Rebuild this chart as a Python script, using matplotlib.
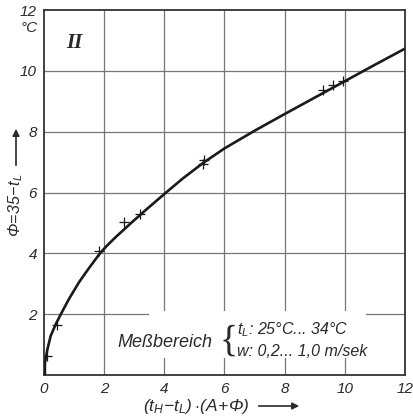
import matplotlib
matplotlib.use("Agg")
import matplotlib.pyplot as plt
from matplotlib.patches import Rectangle, FancyArrowPatch

plt.rcParams["mathtext.fontset"] = "custom"
plt.rcParams["mathtext.rm"] = "Liberation Sans:italic"
plt.rcParams["mathtext.it"] = "Liberation Sans:italic"
plt.rcParams["mathtext.sf"] = "Liberation Sans:italic"

# curve
curve_x = [0.03, 0.03, 0.11, 0.22, 0.39, 0.56, 0.83, 1.17, 1.5, 1.83, 2.06, 2.38, 2.92, 3.4,
           4.0, 4.6, 5.3, 6.0, 7.0, 8.0, 9.0, 10.0, 11.0, 12.0]
curve_y = [0.0, 0.39, 0.83, 1.28, 1.67, 2.0, 2.5, 3.06, 3.52, 3.96, 4.22, 4.53, 5.02, 5.44,
           5.95, 6.45, 6.98, 7.45, 8.03, 8.58, 9.12, 9.66, 10.2, 10.73]

# measured points (+)
meas_x = [0.11, 0.44, 1.84, 2.65, 3.19, 5.28, 5.33, 9.27, 9.62, 9.93]
meas_y = [0.61, 1.63, 4.08, 5.02, 5.29, 6.95, 7.08, 9.38, 9.52, 9.65]

x_ticks = [0, 2, 4, 6, 8, 10, 12]
y_ticks = [2, 4, 6, 8, 10, 12]

FONT = "Liberation Sans"
TXT = "#2a2a2a"

fig = plt.figure(figsize=(4.14, 4.20), dpi=100)
ax = fig.add_axes([44/414, 1-375/420, 361/414, 365/420])
ax.set_xlim(0, 12)
ax.set_ylim(0, 12)

for v in x_ticks[1:-1]:
    ax.axvline(v, color="#777777", lw=0.9, zorder=1)
for v in y_ticks[:-1]:
    ax.axhline(v, color="#777777", lw=0.9, zorder=1)

# white box behind the range text
ax.add_patch(Rectangle((3.5, 0.56), 7.2, 1.54, facecolor="white", edgecolor="none", zorder=2))

ax.plot(curve_x, curve_y, color="#1a1a1a", lw=1.9, zorder=3, solid_capstyle="butt", solid_joinstyle="round")
ax.plot(meas_x, meas_y, linestyle="none", marker="+", markersize=7, mew=0.9, color="#1a1a1a", zorder=4)

for s in ax.spines.values():
    s.set_color("#333333")
    s.set_linewidth(1.3)

ax.set_xticks(x_ticks)
ax.set_yticks(y_ticks)
ax.tick_params(length=0, pad=5, labelsize=11, colors=TXT)
ax.set_xticklabels([str(v) for v in x_ticks], fontstyle="italic", family=FONT)
ax.set_yticklabels([str(v) for v in y_ticks], fontstyle="italic", family=FONT)

ax.text(-0.2, 11.4, "°C", ha="right", va="center", fontsize=11, fontstyle="italic", family=FONT, color=TXT)
ax.text(1.0, 10.92, "II", ha="center", va="center", fontsize=15, fontstyle="italic", fontweight="bold",
        family="Liberation Serif", color=TXT)

ax.text(2.45, 1.08, "Meßbereich", ha="left", va="center", fontsize=13, fontstyle="italic", family=FONT, color=TXT)
ax.text(6.15, 1.1, "{", ha="center", va="center", fontsize=27, family="Liberation Serif", color=TXT,
        fontweight="light")
ax.text(6.4, 1.48, "$t_L$: 25°C... 34°C", ha="left", va="center", fontsize=11.5, fontstyle="italic",
        family=FONT, color=TXT)
ax.text(6.4, 0.76, "w: 0,2... 1,0 m/sek", ha="left", va="center", fontsize=11.5, fontstyle="italic",
        family=FONT, color=TXT)

# axis labels with arrows
fig.text(143/414, 1-406/420, r"$(t_H\!-\!t_L)\cdot\!(A\!+\!\Phi)$", ha="left", va="center", fontsize=12.5, color=TXT)
fig.add_artist(FancyArrowPatch((256/414, 1-406/420), (302/414, 1-406/420),
               transform=fig.transFigure, arrowstyle="-|>", mutation_scale=10, color=TXT, lw=1.2))
fig.text(16/414, 1-205/420, r"$\Phi\!=\!35\!-\!t_L$", ha="center", va="center", fontsize=11.5, rotation=90, color=TXT)
fig.add_artist(FancyArrowPatch((16/414, 1-168/420), (16/414, 1-126/420),
               transform=fig.transFigure, arrowstyle="-|>", mutation_scale=10, color=TXT, lw=1.2))

fig.savefig("out.png", dpi=100, facecolor="white")
